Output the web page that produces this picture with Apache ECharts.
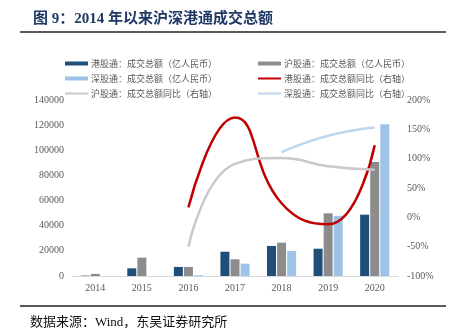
<!DOCTYPE html>
<html><head><meta charset="utf-8">
<script src="https://cdn.jsdelivr.net/npm/echarts@6/dist/echarts.min.js"></script>
<style>html,body{margin:0;padding:0;background:#fff}#c{width:452px;height:330px}</style>
</head><body><div id="c"></div>
<script>
const categories = ['2014','2015','2016','2017','2018','2019','2020'];
const hkAmount = [300, 6100, 7200, 19300, 23900, 21700, 48800];
const shAmount = [1700, 14600, 7200, 13300, 26500, 49900, 90700];
const szAmount = [null, null, 600, 9800, 19900, 47700, 120700];
const hkYoY = [null, null, 17, 170, 24, -12, 123];
const shYoY = [null, null, -50, 91, 101, 87, 81];
const szYoY = [null, null, null, null, 111, 139, 153];
const leftTicks = {min: 0, max: 140000, interval: 20000};
const rightTicks = {min: -100, max: 200, interval: 50};
const names = ['港股通：成交总额（亿人民币）','沪股通：成交总额（亿人民币）','深股通：成交总额（亿人民币）',
  '港股通：成交总额同比（右轴）','沪股通：成交总额同比（右轴）','深股通：成交总额同比（右轴）'];

const chart = echarts.init(document.getElementById('c'));
const serif = '"Liberation Serif", "Times New Roman", serif';
const cjk = '"Noto Sans CJK SC", sans-serif';
function lg(name, left, top, isLine) {
  return {orient:'horizontal', left:left, top:top, itemWidth:23, itemHeight:isLine ? 2 : 4, itemGap:0,
    icon:'rect', data:[name],
    textStyle:{fontSize:9, color:'#595959', fontFamily: cjk, padding:[0,0,0,-2]}};
}
chart.setOption({
  animation:false,
  title:{text:'图 9：2014 年以来沪深港通成交总额', left:28, top:7,
    textStyle:{fontSize:15, fontWeight:'bold', color:'#1f3864', fontFamily:'"Liberation Serif", "Noto Sans CJK SC", serif'}},
  graphic:[
    {type:'line', shape:{x1:20,y1:32,x2:446,y2:32}, style:{stroke:'#222', lineWidth:1.5}},
    {type:'line', shape:{x1:20,y1:306,x2:446,y2:306}, style:{stroke:'#222', lineWidth:1.5}},
    {type:'text', left:30, top:316, style:{text:'数据来源：Wind，东吴证券研究所', fontSize:13, fill:'#111',
      fontFamily:'"Liberation Serif", "Noto Sans CJK SC", serif'}}
  ],
  legend:[
    lg(names[0], 60, 54, false), lg(names[1], 253, 54, false),
    lg(names[2], 60, 69, false), lg(names[3], 253, 69, true),
    lg(names[4], 60, 84, true), lg(names[5], 253, 84, true)
  ],
  grid:{left:72, right:54, top:100, bottom:54, containLabel:false},
  xAxis:{type:'category', data:categories,
    axisLine:{lineStyle:{color:'#d9d9d9', width:1}}, axisTick:{show:false},
    axisLabel:{fontFamily:serif, fontSize:10, color:'#595959', margin:7}},
  yAxis:[
    {type:'value', min:leftTicks.min, max:leftTicks.max, interval:leftTicks.interval,
      splitLine:{show:false}, axisLine:{show:false}, axisTick:{show:false},
      axisLabel:{fontFamily:serif, fontSize:10, color:'#595959', margin:8, formatter:function(v){return String(v);}}},
    {type:'value', min:rightTicks.min, max:rightTicks.max, interval:rightTicks.interval,
      splitLine:{show:false}, axisLine:{show:false}, axisTick:{show:false},
      axisLabel:{fontFamily:serif, fontSize:10, color:'#595959', margin:9, formatter:'{value}%'}}
  ],
  series:[
    {name:names[0], type:'bar', data:hkAmount, barWidth:9, barGap:'12%', itemStyle:{color:'#1f4e79'}},
    {name:names[1], type:'bar', data:shAmount, barWidth:9, barGap:'12%', itemStyle:{color:'#8c8c8c'}},
    {name:names[2], type:'bar', data:szAmount, barWidth:9, barGap:'12%', itemStyle:{color:'#9dc3e6'}},
    {name:names[3], type:'line', yAxisIndex:1, data:hkYoY, smooth:0.5, symbol:'none',
      lineStyle:{color:'#c00000', width:2.5}, itemStyle:{color:'#c00000'}},
    {name:names[4], type:'line', yAxisIndex:1, data:shYoY, smooth:0.5, symbol:'none',
      lineStyle:{color:'#c9c9c9', width:2.5}, itemStyle:{color:'#c9c9c9'}},
    {name:names[5], type:'line', yAxisIndex:1, data:szYoY, smooth:0.5, symbol:'none',
      lineStyle:{color:'#bdd7ee', width:2.5}, itemStyle:{color:'#bdd7ee'}}
  ]
});
</script></body></html>
